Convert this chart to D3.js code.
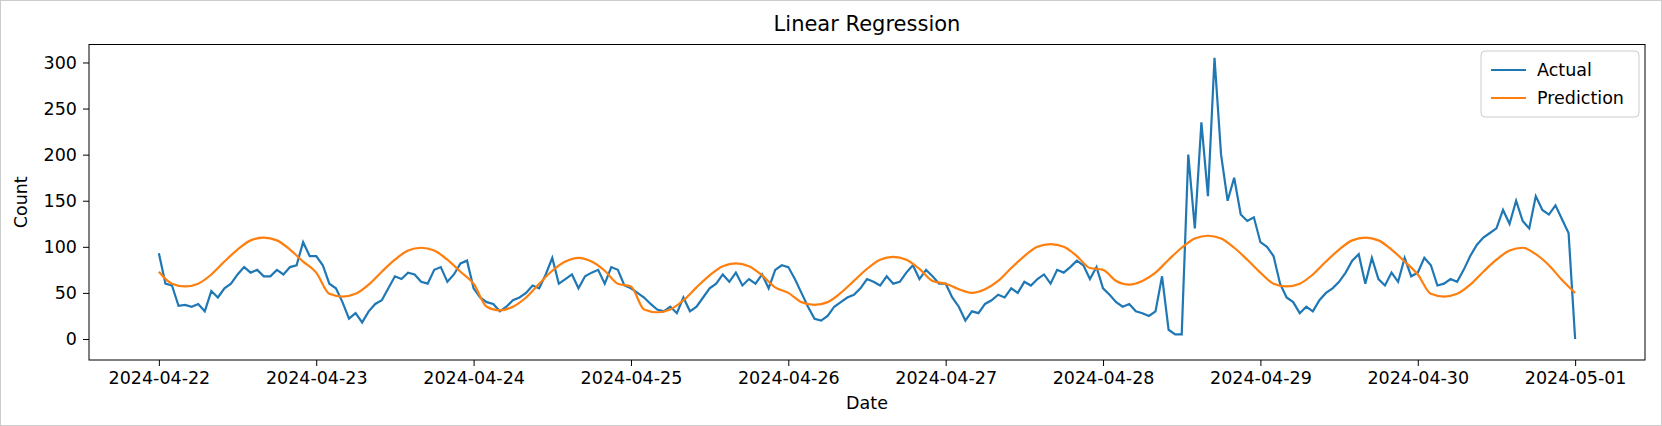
<!DOCTYPE html>
<html><head><meta charset="utf-8">
<script src="https://cdn.jsdelivr.net/npm/d3@7"></script>
<style>body{margin:0;background:#fff}svg{font-family:"DejaVu Sans",sans-serif}</style>
</head><body>
<svg id="chart" width="1662" height="426"></svg>
<script>
// hourly actual counts, one row per day, starting 2024-04-22 00:00
const actual = [
  93,60,58,36,37,35,38,30,52,45,55,60,70,78,72,75,68,68,75,70,78,80,105,90,
  90,80,60,55,40,22,28,18,30,38,42,55,68,65,72,70,62,60,75,78,62,70,82,85,
  55,45,40,38,30,35,42,45,50,58,55,70,88,60,65,70,55,68,72,75,60,78,75,58,
  55,50,45,38,32,30,35,28,45,30,35,45,55,60,70,62,72,58,65,60,70,55,75,80,
  78,65,50,35,22,20,25,35,40,45,48,55,65,62,58,68,60,62,72,80,65,75,68,60,
  60,45,35,20,30,28,38,42,48,45,55,50,62,58,65,70,60,75,72,78,85,80,65,78,
  55,48,40,35,38,30,28,25,30,68,10,5,5,200,120,235,155,305,200,150,175,135,128,132,
  105,100,90,60,45,40,28,35,30,42,50,55,62,72,85,92,60,88,65,58,72,62,88,68,
  72,88,80,58,60,65,62,75,90,102,110,115,120,140,125,150,128,120,155,140,135,145,130,115,
  0
];
// prediction every 2 hours
const prediction = [
  73,60,57,60,70,84,97,107,110,107,97,84,
  72,49,46,49,59,73,86,96,99,96,86,73,
  60,35,31,35,45,60,74,84,88,84,74,60,
  57,32,29,32,42,56,69,79,82,79,69,56,
  50,40,37,40,50,63,76,86,89,86,76,63,
  60,54,50,54,63,77,90,100,103,100,90,77,
  75,63,59,63,72,86,99,109,112,109,99,86,
  72,60,57,60,70,84,97,107,110,107,97,84,
  70,49,46,49,59,73,86,96,99,92,80,64,
  50
];
const tickLabels = ["2024-04-22","2024-04-23","2024-04-24","2024-04-25","2024-04-26","2024-04-27","2024-04-28","2024-04-29","2024-04-30","2024-05-01"];
const yTicks = [0,50,100,150,200,250,300];

const svg = d3.select("#chart");
const L = 89, R = 1645, T = 44.5, B = 360;
const t0 = new Date(2024,3,22);
const hour = 3600e3;
const x = d3.scaleTime().domain([new Date(+t0 - 0.444*24*hour), new Date(+t0 + 9.444*24*hour)]).range([L, R]);
const y = d3.scaleLinear().domain([-22.8, 319.5]).range([B, T]);

svg.append("rect").attr("x",0.5).attr("y",0.5).attr("width",1661).attr("height",425).attr("fill","#fff").attr("stroke","#ccc");

const xa = svg.append("g").attr("transform",`translate(0,${B})`)
  .call(d3.axisBottom(x).tickValues(tickLabels.map(s => new Date(s+"T00:00"))).tickFormat(d3.timeFormat("%Y-%m-%d")).tickSize(6).tickPadding(6));
const ya = svg.append("g").attr("transform",`translate(${L},0)`)
  .call(d3.axisLeft(y).tickValues(yTicks).tickSize(6).tickPadding(6));
[xa, ya].forEach(g => { g.select(".domain").remove(); g.selectAll("text").attr("font-size",17.5).attr("fill","#000").attr("font-family","DejaVu Sans"); g.selectAll("line").attr("stroke","#000"); });

svg.append("rect").attr("x",L).attr("y",T).attr("width",R-L).attr("height",B-T).attr("fill","none").attr("stroke","#000");

svg.append("clipPath").attr("id","c").append("rect").attr("x",L).attr("y",T).attr("width",R-L).attr("height",B-T);
const g = svg.append("g").attr("clip-path","url(#c)");

g.append("path").datum(actual)
  .attr("d", d3.line().x((d,i) => x(new Date(+t0 + i*hour))).y(d => y(d)))
  .attr("fill","none").attr("stroke","#1f77b4").attr("stroke-width",2.2);
g.append("path").datum(prediction)
  .attr("d", d3.line().curve(d3.curveMonotoneX).x((d,i) => x(new Date(+t0 + i*2*hour))).y(d => y(d)))
  .attr("fill","none").attr("stroke","#ff7f0e").attr("stroke-width",2.2);

svg.append("text").attr("x",(L+R)/2).attr("y",31).attr("text-anchor","middle").attr("font-size",21).text("Linear Regression");
svg.append("text").attr("x",(L+R)/2).attr("y",409).attr("text-anchor","middle").attr("font-size",17.5).text("Date");
svg.append("text").attr("transform",`translate(27,${(T+B)/2}) rotate(-90)`).attr("text-anchor","middle").attr("font-size",17.5).text("Count");

const lg = svg.append("g").attr("transform","translate(1481,51)");
lg.append("rect").attr("width",158).attr("height",66).attr("rx",4).attr("fill","#fff").attr("stroke","#ccc");
[["Actual","#1f77b4"],["Prediction","#ff7f0e"]].forEach(([t,c],i) => {
  lg.append("line").attr("x1",10).attr("x2",45).attr("y1",19+i*28).attr("y2",19+i*28).attr("stroke",c).attr("stroke-width",2.2);
  lg.append("text").attr("x",56).attr("y",25+i*28).attr("font-size",17.5).text(t);
});
</script>
</body></html>
